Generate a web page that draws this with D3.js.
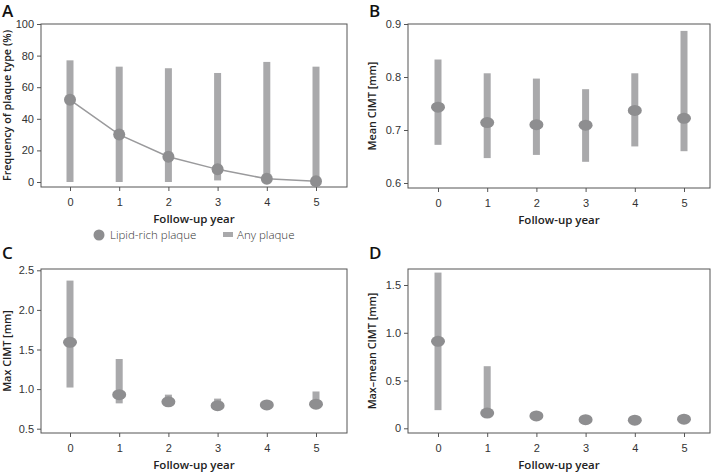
<!DOCTYPE html>
<html>
<head>
<meta charset="utf-8">
<script src="https://cdn.jsdelivr.net/npm/d3@7/dist/d3.min.js"></script>
<style>
  body { margin: 0; background: #fff; }
  svg { font-family: "Open Sans", sans-serif; }
</style>
</head>
<body>
<div id="chart"></div>
<script>
// Follow-up years shared by all four panels
const years = [0, 1, 2, 3, 4, 5];

// Panel A: frequency of plaque type (%)
const lipidRich = [52, 30, 16, 8, 2, 0.5];
const anyPlaqueLow = [0, 0, 0, 1, 0, 0];
const anyPlaqueHigh = [77, 73, 72, 69, 76, 73];

// Panel B: mean CIMT [mm]
const meanCimt = [0.743, 0.714, 0.710, 0.709, 0.737, 0.722];
const meanCimtLow = [0.672, 0.647, 0.653, 0.640, 0.669, 0.660];
const meanCimtHigh = [0.833, 0.807, 0.797, 0.777, 0.807, 0.887];

// Panel C: max CIMT [mm]
const maxCimt = [1.59, 0.93, 0.84, 0.79, 0.80, 0.81];
const maxCimtLow = [1.02, 0.82, 0.80, 0.77, 0.78, 0.78];
const maxCimtHigh = [2.37, 1.38, 0.93, 0.88, 0.83, 0.97];

// Panel D: max-mean CIMT [mm]
const diffCimt = [0.91, 0.16, 0.13, 0.09, 0.085, 0.095];
const diffCimtLow = [0.19, 0.16, 0.13, 0.09, 0.085, 0.095];
const diffCimtHigh = [1.63, 0.65, 0.13, 0.09, 0.085, 0.095];

const barColour = '#a9a9ab';
const dotColour = '#8e8e90';
const frameColour = '#555';

const svg = d3.select('#chart')
  .append('svg')
  .attr('width', 714)
  .attr('height', 472);

// Draw one panel
function drawPanel(p) {
  const xScale = d3.scaleLinear().domain([0, 5]).range([p.x0, p.x5]);
  const yScale = d3.scaleLinear().domain(p.yDomain).range(p.yRange);

  const g = svg.append('g');

  // Frame
  g.append('rect')
    .attr('x', p.left).attr('y', p.top)
    .attr('width', p.right - p.left).attr('height', p.bottom - p.top)
    .attr('fill', 'none').attr('stroke', frameColour).attr('stroke-width', 1);

  // Y axis
  const yAxis = g.append('g')
    .attr('transform', `translate(${p.left}, 0)`)
    .call(d3.axisLeft(yScale).tickValues(p.yTicks).tickFormat(p.yFormat).tickSize(4).tickSizeOuter(0));
  // X axis
  const xAxis = g.append('g')
    .attr('transform', `translate(0, ${p.bottom})`)
    .call(d3.axisBottom(xScale).tickValues(years).tickFormat(d3.format('d')).tickSize(4).tickSizeOuter(0));

  [yAxis, xAxis].forEach(a => {
    a.select('.domain').remove();
    a.selectAll('line').attr('stroke', frameColour);
    a.selectAll('text').attr('fill', '#333').style('font-size', '11px').style('font-weight', 300);
  });
  xAxis.selectAll('text').attr('dy', '1.1em');

  // Range bars
  g.selectAll('.bar')
    .data(years)
    .enter()
    .append('rect')
      .attr('x', d => xScale(d) - 3.5)
      .attr('y', d => yScale(p.high[d]))
      .attr('width', 7)
      .attr('height', d => Math.max(0, yScale(p.low[d]) - yScale(p.high[d])))
      .attr('fill', barColour);

  // Connecting line (panel A only)
  if (p.line) {
    g.append('path')
      .datum(years)
      .attr('d', d3.line().x(d => xScale(d)).y(d => yScale(p.mid[d])))
      .attr('fill', 'none')
      .attr('stroke', '#9a9a9c')
      .attr('stroke-width', 1.5);
  }

  // Points
  g.selectAll('.dot')
    .data(years)
    .enter()
    .append('ellipse')
      .attr('cx', d => xScale(d))
      .attr('cy', d => yScale(p.mid[d]))
      .attr('rx', p.rx)
      .attr('ry', p.ry)
      .attr('fill', dotColour);

  // Axis titles
  g.append('text')
    .attr('x', (p.left + p.right) / 2)
    .attr('y', p.bottom + 36)
    .attr('text-anchor', 'middle')
    .style('font-size', '11.5px')
    .style('font-weight', 600)
    .attr('fill', '#222')
    .text('Follow-up year');

  g.append('text')
    .attr('transform', `translate(${p.left - p.yTitleOffset}, ${(p.top + p.bottom) / 2}) rotate(-90)`)
    .attr('text-anchor', 'middle')
    .style('font-size', '10.8px')
    .style('font-weight', 600)
    .attr('fill', '#222')
    .text(p.yTitle);

  // Panel letter
  g.append('text')
    .attr('x', p.letterX)
    .attr('y', p.letterY)
    .style('font-size', '17px')
    .style('font-weight', 600)
    .attr('fill', '#111')
    .text(p.letter);
}

drawPanel({
  letter: 'A', letterX: 2, letterY: 17,
  left: 41, right: 347, top: 24, bottom: 187,
  x0: 70, x5: 316,
  yDomain: [0, 100], yRange: [182, 24], yTicks: [0, 20, 40, 60, 80, 100], yFormat: d3.format('d'),
  yTitle: 'Frequency of plaque type (%)', yTitleOffset: 30,
  mid: lipidRich, low: anyPlaqueLow, high: anyPlaqueHigh,
  rx: 6, ry: 6, line: true
});

drawPanel({
  letter: 'B', letterX: 369, letterY: 17,
  left: 408, right: 710, top: 24, bottom: 188,
  x0: 438, x5: 684,
  yDomain: [0.6, 0.9], yRange: [183, 24], yTicks: [0.6, 0.7, 0.8, 0.9], yFormat: d3.format('.1f'),
  yTitle: 'Mean CIMT [mm]', yTitleOffset: 32,
  mid: meanCimt, low: meanCimtLow, high: meanCimtHigh,
  rx: 7, ry: 5.5, line: false
});

drawPanel({
  letter: 'C', letterX: 2, letterY: 259,
  left: 41, right: 347, top: 269, bottom: 433,
  x0: 70, x5: 316,
  yDomain: [0.5, 2.5], yRange: [428.7, 270.3], yTicks: [0.5, 1.0, 1.5, 2.0, 2.5], yFormat: d3.format('.1f'),
  yTitle: 'Max CIMT [mm]', yTitleOffset: 30,
  mid: maxCimt, low: maxCimtLow, high: maxCimtHigh,
  rx: 7, ry: 5.5, line: false
});

drawPanel({
  letter: 'D', letterX: 369, letterY: 259,
  left: 408, right: 710, top: 269, bottom: 433,
  x0: 438, x5: 684,
  yDomain: [0, 1.5], yRange: [428.3, 285], yTicks: [0, 0.5, 1.0, 1.5], yFormat: d => d === 0 ? '0' : d3.format('.1f')(d),
  yTitle: 'Max–mean CIMT [mm]', yTitleOffset: 32,
  mid: diffCimt, low: diffCimtLow, high: diffCimtHigh,
  rx: 7, ry: 5.5, line: false
});

// Legend for panel A
const legend = svg.append('g').style('font-size', '11.5px').attr('fill', '#333');
legend.append('circle').attr('cx', 99).attr('cy', 235).attr('r', 5.5).attr('fill', dotColour);
legend.append('text').attr('x', 110).attr('y', 239).style('font-weight', 300).text('Lipid-rich plaque');
legend.append('rect').attr('x', 223).attr('y', 232).attr('width', 10).attr('height', 5).attr('fill', barColour);
legend.append('text').attr('x', 237).attr('y', 239).style('font-weight', 300).text('Any plaque');
</script>
</body>
</html>
